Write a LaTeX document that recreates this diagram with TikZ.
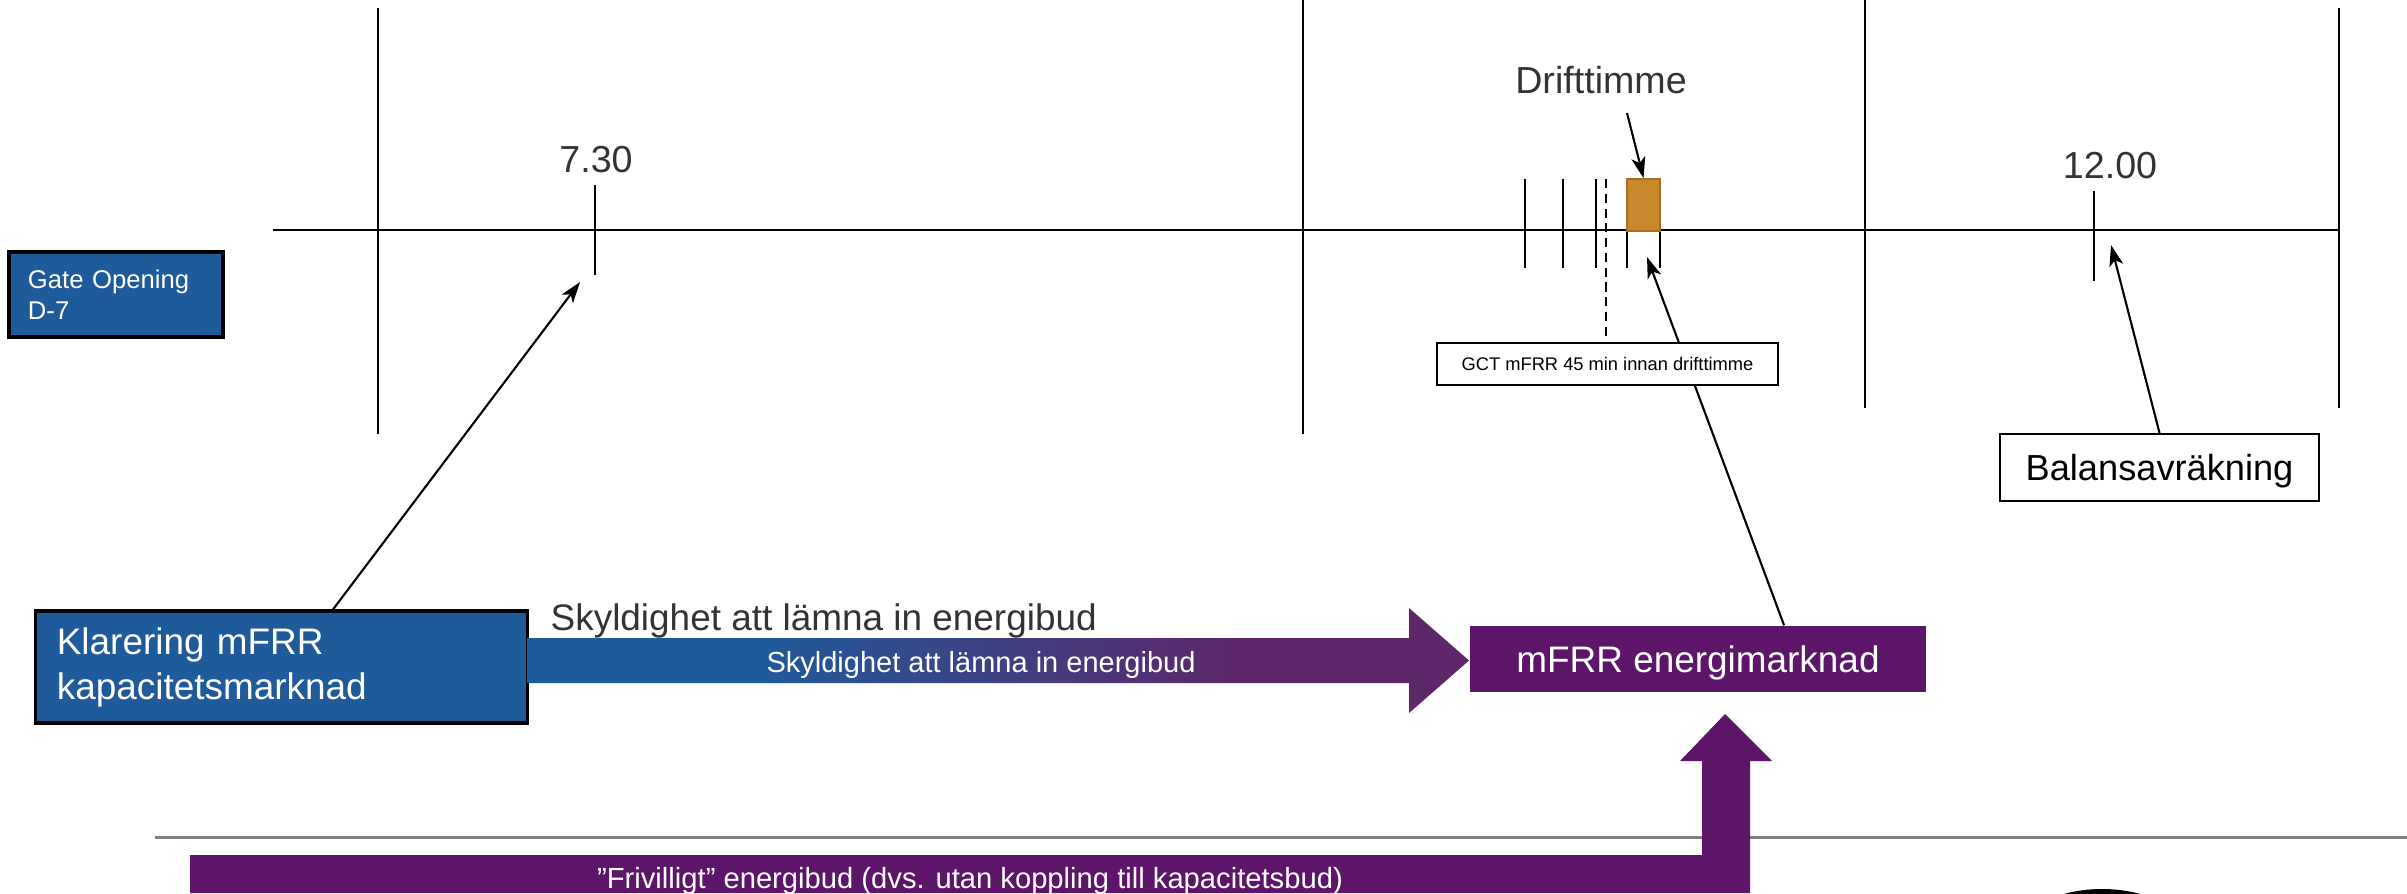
\documentclass[tikz,border=0pt]{standalone}
\usepackage{fontspec}
\setmainfont{Liberation Sans}
\usetikzlibrary{arrows.meta,calc}
\definecolor{boxblue}{HTML}{1F5A9A}
\definecolor{mpurple}{HTML}{5C1568}
\definecolor{bandpurple}{HTML}{5D276A}
\definecolor{hourorange}{HTML}{C8872A}
\definecolor{hourborder}{HTML}{A8701E}
\definecolor{labelgray}{HTML}{333333}
\definecolor{rulegray}{HTML}{7F7F7F}
\pgfdeclarehorizontalshading{bandshade}{100bp}{color(0bp)=(boxblue); color(37.5bp)=(boxblue); color(62.5bp)=(bandpurple); color(100bp)=(bandpurple)}
\begin{document}
\begin{tikzpicture}[x=0.01cm, y=-0.01cm,
  axisline/.style={line width=0.7pt},
  tickline/.style={line width=0.6pt},
  pointer/.style={line width=0.6pt, -{Stealth[length=6pt,width=4pt,inset=1.6pt]}},
  bluebox/.style={draw=black, line width=0.9pt, fill=boxblue, text=white, align=left, inner ysep=0pt},
  whitebox/.style={draw=black, line width=0.6pt, fill=white, inner sep=0pt, text depth=0pt},
  bigtxt/.style={font=\fontsize{10.5}{12.8}\selectfont},
  timelabel/.style={font=\fontsize{10.7}{12.8}\selectfont, text=labelgray, inner sep=0pt, anchor=base},
  bandtxt/.style={font=\fontsize{8.25}{10}\selectfont, text=white, inner sep=0pt, anchor=base}]
\useasboundingbox (0,0) rectangle (2407,893);

% separating rule and cut-off shape at the bottom
\coordinate (ruleL) at (155,837);
\coordinate (ruleR) at (2407,837);
\draw[rulegray, line width=0.85pt] (ruleL) -- (ruleR);
\fill[black] (2102,925) ellipse [x radius=75, y radius=36];

% time axis and section lines
\coordinate (tlL) at (273,230);
\coordinate (tlR) at (2339,230);
\draw[axisline] (tlL) -- (tlR);
\draw[tickline] (378,8) -- (378,434);
\draw[tickline] (1303,0) -- (1303,434);
\draw[tickline] (1865,0) -- (1865,408);
\draw[tickline] (2339,8) -- (2339,408);

% 7.30 and 12.00 ticks
\draw[tickline] (595,185) -- (595,275);
\draw[tickline] (2094,191) -- (2094,281);
\node[timelabel] (l730) at (596,172) {7.30};
\node[timelabel] (l1200) at (2110,178) {12.00};

% hour ticks
\foreach \tx in {1525,1563,1596,1627,1660}
  \draw[tickline] (\tx,179) -- (\tx,268);
\draw[tickline, dash pattern=on 2.6pt off 1.6pt] (1606,179) -- (1606,337);

% Drifttimme
\node[timelabel] (ldrift) at (1601,93) {Drifttimme};
\node[fill=hourorange, draw=hourborder, line width=0.5pt, minimum width=0.33cm, minimum height=0.52cm, inner sep=0pt] (hour) at (1643.5,205) {};
\coordinate (dstart) at (1627,113);
\draw[pointer] (dstart) -- (hour.north);

% boxes
\node[bluebox, font=\fontsize{7.3}{8.8}\selectfont, text width=1.76cm, inner xsep=0.19cm, minimum height=0.85cm] (gate) at (116,294.5) {Gate Opening\\D-7};
\node[bluebox, bigtxt, text width=4.49cm, inner xsep=0.21cm, minimum height=1.12cm] (klar) at (281.5,667) {Klarering mFRR\\kapacitetsmarknad};
\node[fill=mpurple, text=white, bigtxt, minimum width=4.56cm, minimum height=0.66cm, inner sep=0pt, text depth=0pt] (mfrr) at (1698,659) {mFRR energimarknad};

% pointers
\coordinate (tip730) at (580,282);
\draw[pointer] ([xshift=0.515cm]klar.north) -- (tip730);
\coordinate (tiphour) at (1647,257);
\draw[pointer] ([xshift=0.86cm]mfrr.north) -- (tiphour);

\node[whitebox, font=\fontsize{5.2}{6}\selectfont, minimum width=3.41cm, minimum height=0.42cm] (gct) at (1607.5,364) {GCT mFRR 45 min innan drifttimme};

\node[whitebox, font=\fontsize{10.3}{12}\selectfont, minimum width=3.19cm, minimum height=0.67cm] (balans) at (2159.5,467.5) {Balansavräkning};
\coordinate (tip1200) at (2111,245);
\draw[pointer] (balans.north) -- (tip1200);

% obligation band arrow
\shade[shading=bandshade] (527,638) -- (1409,638) -- (1409,608) -- (1469,660.5) -- (1409,713) -- (1409,683) -- (527,683) -- cycle;
\node[font=\fontsize{10.5}{12.8}\selectfont, text=labelgray, inner sep=0pt, anchor=base west] (sky1) at (550,630) {Skyldighet att lämna in energibud};
\node[bandtxt] (sky2) at (981,672) {Skyldighet att lämna in energibud};

% voluntary bids L-arrow
\fill[mpurple] (190,893) -- (190,855) -- (1702,855) -- (1702,761) -- (1680,761) -- (1725,714) -- (1772,761) -- (1750,761) -- (1750,893) -- cycle;
\node[bandtxt, font=\fontsize{8.3}{10}\selectfont] (friv) at (970,888) {”Frivilligt” energibud (dvs. utan koppling till kapacitetsbud)};
\end{tikzpicture}
\end{document}
